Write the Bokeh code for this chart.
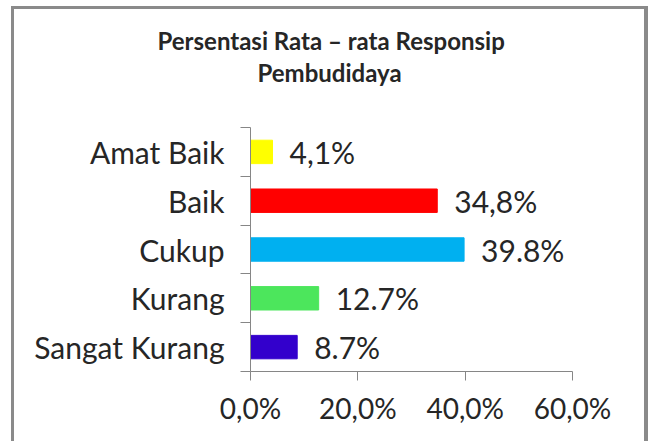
from bokeh.plotting import figure
from bokeh.models import Range1d, FixedTicker, Title, ColumnDataSource
from bokeh.core.properties import value
from bokeh.embed import file_html
from bokeh.resources import INLINE

# data (bottom to top)
categories = ["Sangat Kurang", "Kurang", "Cukup", "Baik", "Amat Baik"]
percent = [8.7, 12.7, 39.8, 34.8, 4.1]
bar_labels = ["8.7%", "12.7%", "39.8%", "34,8%", "4,1%"]
bar_colors = ["#3300CC", "#4CE65C", "#00B0F0", "#FF0000", "#FFFF00"]
x_ticks = [0, 20, 40, 60]
x_tick_labels = ["0,0%", "20,0%", "40,0%", "60,0%"]
title_lines = ["Persentasi Rata \u2013 rata Responsip", "Pembudidaya"]

FONT = "Lato"
TXT = "#262626"
AX = "#868686"
FRAME = "#8a8a8a"

pos = list(range(len(categories)))
src = ColumnDataSource(dict(y=pos, v=percent, lab=bar_labels, c=bar_colors))

p = figure(width=648, height=441, x_range=Range1d(0, 60), y_range=Range1d(-0.5, len(categories) - 0.5),
           output_backend="svg", toolbar_location=None,
           min_border_left=250, min_border_right=76, min_border_top=127, min_border_bottom=70)
p.styles = {"box-shadow": (f"inset 11px 0 0 #ffffff, inset 0 6px 0 #ffffff, "
                           f"inset 14px 0 0 {FRAME}, inset 0 9px 0 {FRAME}, inset -4px 0 0 {FRAME}")}
p.outline_line_color = None
p.grid.visible = False
p.background_fill_color = "white"
p.border_fill_color = None

p.hbar(y="y", right="v", left=0, height=0.48, fill_color="c", line_color="c", source=src)
p.text(x="v", y="y", text="lab", source=src, x_offset=17, text_align="left", text_baseline="middle",
       text_font=value(FONT), text_font_size="30px", text_color=TXT)

# x axis
xa = p.xaxis[0]
xa.ticker = FixedTicker(ticks=x_ticks, minor_ticks=[])
xa.major_label_overrides = {t: l for t, l in zip(x_ticks, x_tick_labels)}
xa.axis_line_color = AX
xa.major_tick_line_color = AX
xa.major_tick_out = 9
xa.major_tick_in = 0
xa.major_label_standoff = 10
xa.major_label_text_font = FONT
xa.major_label_text_font_size = "28px"
xa.major_label_text_color = TXT

# y axis
ya = p.yaxis[0]
ya.ticker = FixedTicker(ticks=pos, minor_ticks=[i - 0.5 for i in range(len(categories) + 1)])
ya.major_label_overrides = {i: c for i, c in zip(pos, categories)}
ya.axis_line_color = AX
ya.major_tick_line_color = None
ya.major_tick_out = 10
ya.major_tick_in = 0
ya.minor_tick_line_color = AX
ya.minor_tick_out = 10
ya.minor_tick_in = 0
ya.major_label_standoff = 16
ya.major_label_text_font = FONT
ya.major_label_text_font_size = "30px"
ya.major_label_text_color = TXT

# white-on-white spacer title nearest the plot keeps a gap under the two title lines
p.add_layout(Title(text="|", standoff=8, text_font=FONT, text_font_size="24px", text_color="#ffffff"), "above")
p.add_layout(Title(text=title_lines[1], align="left", offset=7, standoff=3, text_font=FONT,
                   text_font_style="bold", text_font_size="24px", text_color=TXT), "above")
p.add_layout(Title(text=title_lines[0], align="left", offset=-93, standoff=0, text_font=FONT,
                   text_font_style="bold", text_font_size="24px", text_color=TXT), "above")

open("out.html", "w").write(file_html(p, INLINE))
